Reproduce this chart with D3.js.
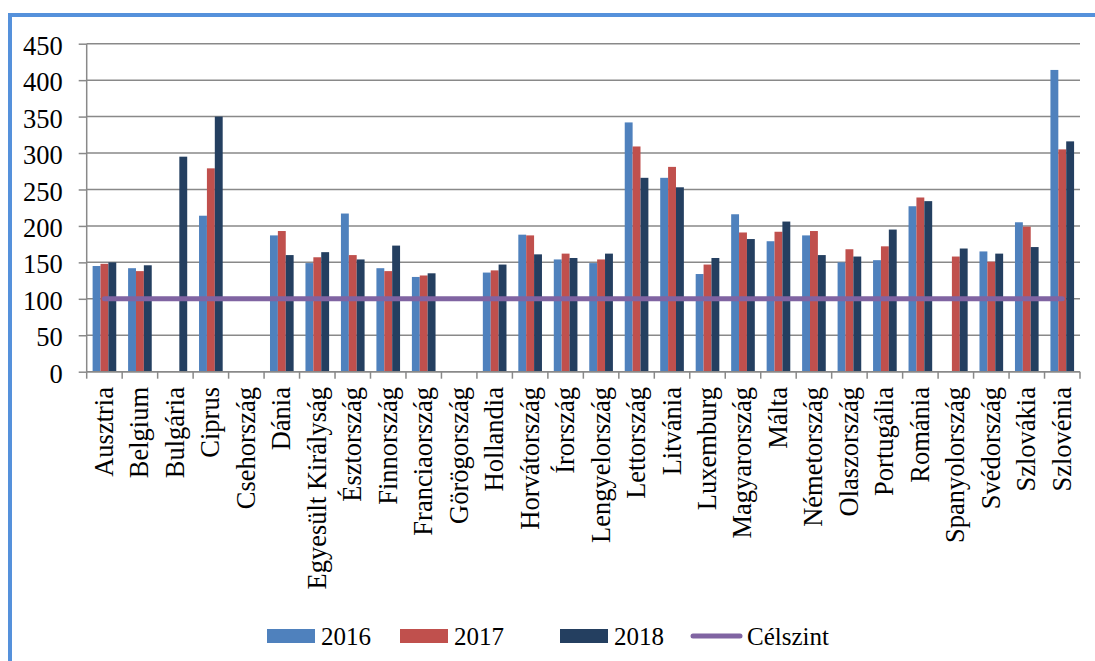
<!DOCTYPE html>
<html>
<head>
<meta charset="utf-8">
<script src="https://cdn.jsdelivr.net/npm/d3@7/dist/d3.min.js"></script>
<style>
  html, body { margin: 0; padding: 0; background: #fff; }
  svg { display: block; }
  text { font-family: 'Liberation Serif', 'Times New Roman', serif; fill: #000; }
</style>
</head>
<body>
<svg id="chart" width="1095" height="661"></svg>
<script>
const categories = ["Ausztria","Belgium","Bulgária","Ciprus","Csehország","Dánia","Egyesült Királyság","Észtország","Finnország","Franciaország","Görögország","Hollandia","Horvátország","Írország","Lengyelország","Lettország","Litvánia","Luxemburg","Magyarország","Málta","Németország","Olaszország","Portugália","Románia","Spanyolország","Svédország","Szlovákia","Szlovénia"];
const series = ["2016","2017","2018"];
const values2016 = [145,142,null,214,null,187,149,217,142,130,null,136,188,154,149,342,266,134,216,179,187,150,153,227,null,165,205,414];
const values2017 = [148,138,null,279,null,193,157,160,138,132,null,139,187,162,154,309,281,147,191,192,193,168,172,239,158,151,199,305];
const values2018 = [150,146,295,350,null,160,164,154,173,135,null,147,161,156,162,266,253,156,182,206,160,158,195,234,169,162,171,316];
const targetLevel = 100;
const targetLabel = "Célszint";
const yTicks = [0,50,100,150,200,250,300,350,400,450];

const colors = {"2016":"#4F81BD","2017":"#C0504D","2018":"#243F60"};
const targetColor = "#8064A2";
const dataBySeries = {"2016": values2016, "2017": values2017, "2018": values2018};
const FONT = "'Liberation Serif', 'Times New Roman', serif";

const svg = d3.select("#chart");

// frame
svg.append("rect").attr("x", 8).attr("y", 13).attr("width", 4).attr("height", 661 - 13).attr("fill", "#5591DB");
svg.append("rect").attr("x", 8).attr("y", 13).attr("width", 1095 - 8).attr("height", 4).attr("fill", "#5591DB");

const x0 = d3.scaleBand().domain(categories).range([86.7, 1080]).paddingInner(0).paddingOuter(0);
const bw = x0.bandwidth();
const gap = bw / 3;
const x1 = d3.scaleBand().domain(series).range([gap / 2, bw - gap / 2]).padding(0);
const y = d3.scaleLinear().domain([0, 450]).range([371.7, 43.7]);

const gridColor = "#898989";

// y axis ticks + labels
const yAxis = d3.axisLeft(y).tickValues(yTicks).tickSize(8).tickPadding(16).tickFormat(d3.format("d"));
const gy = svg.append("g").attr("transform", "translate(86.7,0)").call(yAxis)
  .attr("font-family", FONT).attr("font-size", 26);
gy.select(".domain").remove();
gy.selectAll(".tick line").attr("stroke", gridColor).attr("stroke-width", 1.5);
gy.selectAll(".tick text").style("font-size", "26.5px").style("font-family", FONT).attr("fill", "#000").attr("dy", "0.4em");

// gridlines
svg.append("g").selectAll("line").data(yTicks).join("line")
  .attr("x1", 86.7).attr("x2", 1080)
  .attr("y1", d => y(d)).attr("y2", d => y(d))
  .attr("stroke", gridColor).attr("stroke-width", 1.5);

// bars
const groups = svg.append("g").selectAll("g").data(categories).join("g")
  .attr("transform", d => `translate(${x0(d)},0)`);
groups.selectAll("rect")
  .data((c, i) => series.map(s => ({s, v: dataBySeries[s][i]})).filter(d => d.v != null))
  .join("rect")
  .attr("x", d => x1(d.s))
  .attr("width", x1.bandwidth())
  .attr("y", d => y(d.v))
  .attr("height", d => y(0) - y(d.v))
  .attr("fill", d => colors[d.s]);

// axes lines
svg.append("line").attr("x1", 86.7).attr("x2", 1080).attr("y1", y(0)).attr("y2", y(0))
  .attr("stroke", gridColor).attr("stroke-width", 1.5);
svg.append("line").attr("x1", 86.7).attr("x2", 86.7).attr("y1", y(450)).attr("y2", y(0))
  .attr("stroke", gridColor).attr("stroke-width", 1.5);
const boundaries = categories.map(c => x0(c)).concat([x0(categories[categories.length - 1]) + bw]);
svg.append("g").selectAll("line").data(boundaries).join("line")
  .attr("x1", d => d).attr("x2", d => d).attr("y1", y(0)).attr("y2", y(0) + 7)
  .attr("stroke", gridColor).attr("stroke-width", 1.5);

// category labels
svg.append("g").selectAll("text").data(categories).join("text")
  .attr("transform", d => `translate(${x0(d) + bw / 2},387) rotate(-90)`)
  .attr("text-anchor", "end")
  .attr("dy", "0.32em")
  .style("font-family", FONT)
  .style("font-size", "26.5px")
  .text(d => d);

// target line
const line = d3.line().x(d => x0(d) + bw / 2).y(() => y(targetLevel));
svg.append("path").datum(categories).attr("d", line)
  .attr("fill", "none").attr("stroke", targetColor).attr("stroke-width", 5).attr("stroke-linecap", "round");

// legend
const legendX = [267, 400, 560];
series.forEach((s, i) => {
  svg.append("rect").attr("x", legendX[i]).attr("y", 629).attr("width", 48).attr("height", 14).attr("fill", colors[s]);
  svg.append("text").attr("x", legendX[i] + 54).attr("y", 636).attr("dy", "0.36em")
    .style("font-family", FONT).style("font-size", "25px").text(s);
});
svg.append("line").attr("x1", 693).attr("x2", 740).attr("y1", 636).attr("y2", 636)
  .attr("stroke", targetColor).attr("stroke-width", 5).attr("stroke-linecap", "round");
svg.append("text").attr("x", 747).attr("y", 636).attr("dy", "0.36em")
  .style("font-family", FONT).style("font-size", "25px").text(targetLabel);
</script>
</body>
</html>
